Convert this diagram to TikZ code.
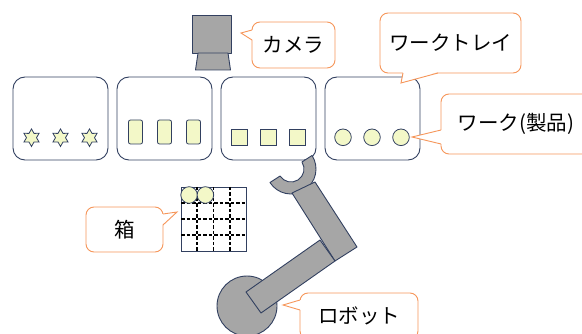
\documentclass[tikz,border=0pt]{standalone}
\usepackage{fontspec}
\newfontfamily\jpfont{Noto Sans CJK JP}
\usetikzlibrary{shapes.geometric}

\definecolor{trayline}{RGB}{50,64,96}
\definecolor{workfill}{RGB}{243,248,200}
\definecolor{armgray}{RGB}{166,166,166}
\definecolor{noteline}{RGB}{246,150,90}

\tikzset{
  tray/.style={draw=trayline, line width=0.9pt, rounded corners=12pt,
    minimum width=95pt, minimum height=83pt, inner sep=0pt, outer sep=0pt},
  work/.style={draw=trayline, line width=0.8pt, fill=workfill, inner sep=0pt},
  starwork/.style={work, star, star points=6, star point ratio=1.75, minimum size=17.5pt},
  barwork/.style={work, rectangle, rounded corners=2pt, minimum width=14pt, minimum height=24pt},
  boxwork/.style={work, rectangle, minimum size=16pt},
  ballwork/.style={work, circle, minimum size=16.6pt},
  part/.style={draw=trayline, line width=0.9pt, fill=armgray, line join=round},
  note/.style={draw=noteline, line width=0.9pt, fill=white, rounded corners=8pt,
    inner sep=0pt, outer sep=0pt, font=\jpfont\fontsize{20.5}{24}\selectfont},
  pointer/.style={draw=noteline, line width=0.9pt},
  gridline/.style={line width=1.6pt, dash pattern=on 3.5pt off 2pt},
}

\begin{document}
\begin{tikzpicture}[x=1pt, y=-1pt]
  \useasboundingbox (0,0) rectangle (582,334);

  % trays and the works on them
  \foreach \i in {1,2,3,4}
    \node[tray] (tray\i) at (60.5+104*\i-104,118.5) {};
  \foreach \k/\d in {1/-29, 2/0, 3/29} {
    \node[starwork] (star\k) at (60.5+\d,137.7) {};
    \node[barwork] (bar\k) at (164.5+\d,132) {};
    \node[boxwork] (cube\k) at (268.5+\d,137.5) {};
    \node[ballwork] (ball\k) at (372+\d,137.3) {};
  }

  % camera
  \draw[part] (192,15) rectangle (231,53);
  \draw[part] (198,53) -- (228,53) -- (230.5,70) -- (195.5,70) -- cycle;

  % box with 4x4 cells
  \draw[draw=trayline, line width=0.8pt] (181,187) rectangle (246,251);
  \foreach \i in {1,2,3} {
    \draw[gridline] (181+16.25*\i,187) -- (181+16.25*\i,251);
    \draw[gridline] (181,187+16*\i) -- (246,187+16*\i);
  }
  \node[ballwork] (cell1) at (189.1,195) {};
  \node[ballwork] (cell2) at (205.4,195) {};

  % robot: base, hand, upper and lower arm
  \draw[part] (247,306) circle[radius=30];
  \draw[part] (291,169) ++(-32.7:25) arc[start angle=-32.7, end angle=147.3, radius=25]
    -- ++(-32.7:12) arc[start angle=147.3, end angle=-32.7, radius=13] -- cycle;
  \draw[part] (292,193) -- (315,182) -- (357,247) -- (335,261) -- cycle;
  \draw[part] (246,292) -- (261,313) -- (335,261) -- (320,240) -- cycle;

  % callouts
  \coordinate (camtip) at (241,33);
  \coordinate (traytip) at (401,83);
  \coordinate (worktip) at (412,137);
  \coordinate (boxtip) at (177,212);
  \coordinate (robottip) at (283,305);

  \node[note, minimum width=83pt, minimum height=46pt] (camnote) at (293.5,45) {カメラ};
  \fill[white] ([shift={(1,8)}]camnote.north west) -- (camtip)
    -- ([shift={(1,18)}]camnote.north west) -- cycle;
  \draw[pointer] ([shift={(0,8)}]camnote.north west) -- (camtip)
    -- ([shift={(0,18)}]camnote.north west);

  \node[note, minimum width=141pt, minimum height=60pt] (traynote) at (450.5,43) {ワークトレイ};
  \fill[white] ([shift={(23,-1)}]traynote.south west) -- (traytip)
    -- ([shift={(58,-1)}]traynote.south west) -- cycle;
  \draw[pointer] ([shift={(23,0)}]traynote.south west) -- (traytip)
    -- ([shift={(58,0)}]traynote.south west);

  \node[note, minimum width=150pt, minimum height=60pt] (worknote) at (516,124) {ワーク(製品)};
  \fill[white] ([shift={(1,36)}]worknote.north west) -- (worktip)
    -- ([shift={(1,50)}]worknote.north west) -- cycle;
  \draw[pointer] ([shift={(0,36)}]worknote.north west) -- (worktip)
    -- ([shift={(0,50)}]worknote.north west);

  \node[note, minimum width=77pt, minimum height=45pt] (boxnote) at (124.5,229.5) {箱};
  \fill[white] ([shift={(-1,7)}]boxnote.north east) -- (boxtip)
    -- ([shift={(-1,18)}]boxnote.north east) -- cycle;
  \draw[pointer] ([shift={(0,7)}]boxnote.north east) -- (boxtip)
    -- ([shift={(0,18)}]boxnote.north east);

  \node[note, minimum width=118pt, minimum height=46pt] (robotnote) at (359,316) {ロボット};
  \fill[white] ([shift={(1,7)}]robotnote.north west) -- (robottip)
    -- ([shift={(1,17)}]robotnote.north west) -- cycle;
  \draw[pointer] ([shift={(0,7)}]robotnote.north west) -- (robottip)
    -- ([shift={(0,17)}]robotnote.north west);
\end{tikzpicture}
\end{document}
